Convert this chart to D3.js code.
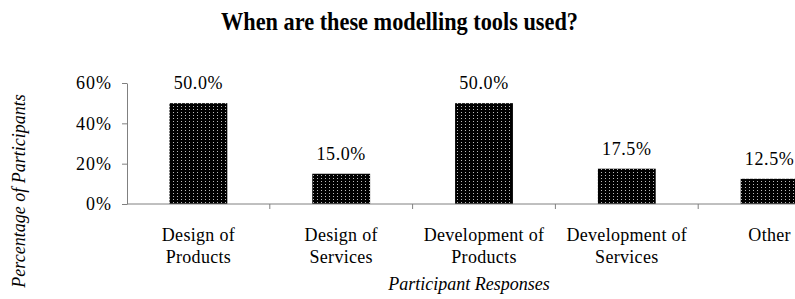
<!DOCTYPE html>
<html>
<head>
<meta charset="utf-8">
<script src="https://cdn.jsdelivr.net/npm/d3@7"></script>
<style>
  body { margin: 0; background: #fff; }
</style>
</head>
<body>
<svg id="chart" width="795" height="299"></svg>
<script>
// chart data
const categories = [
  ["Design of", "Products"],
  ["Design of", "Services"],
  ["Development of", "Products"],
  ["Development of", "Services"],
  ["Other"]
];
const values = [50.0, 15.0, 50.0, 17.5, 12.5];
const yTicks = [0, 20, 40, 60];

const serif = '"Liberation Serif", "Times New Roman", serif';
const svg = d3.select('#chart').attr('font-family', serif);

// dotted fill like the original
const defs = svg.append('defs');
const pat = defs.append('pattern')
  .attr('id', 'dots')
  .attr('patternUnits', 'userSpaceOnUse')
  .attr('width', 4)
  .attr('height', 3);
pat.append('rect').attr('width', 4).attr('height', 3).attr('fill', '#000');
pat.append('rect').attr('x', 1).attr('y', 1).attr('width', 1).attr('height', 1).attr('fill', '#bbb');

const left = 127, baseY = 204, step = 142.8;

const x = d3.scaleBand()
  .domain(d3.range(categories.length))
  .range([left, left + step * categories.length])
  .paddingInner(0.595)
  .paddingOuter(0.2975);

const y = d3.scaleLinear()
  .domain([0, 60])
  .range([baseY, 83]);

// title (squeezed a bit, like the original)
svg.append('text')
  .attr('x', 221)
  .attr('y', 30)
  .attr('font-weight', 'bold')
  .attr('font-size', 25)
  .attr('textLength', 357)
  .attr('lengthAdjust', 'spacingAndGlyphs')
  .text('When are these modelling tools used?');

// bars
svg.selectAll('rect.bar')
  .data(values)
  .join('rect')
  .attr('class', 'bar')
  .attr('x', (d, i) => x(i))
  .attr('width', x.bandwidth())
  .attr('y', d => y(d))
  .attr('height', d => baseY - y(d))
  .attr('fill', 'url(#dots)');

// value labels
svg.selectAll('text.val')
  .data(values)
  .join('text')
  .attr('class', 'val')
  .attr('x', (d, i) => x(i) + x.bandwidth() / 2)
  .attr('y', d => y(d) - 14)
  .attr('text-anchor', 'middle')
  .attr('font-size', 18)
  .attr('letter-spacing', 0.6)
  .text(d => d.toFixed(1) + '%');

// y axis
const yAxis = svg.append('g')
  .attr('transform', `translate(${left},0)`)
  .call(d3.axisLeft(y).tickValues(yTicks).tickFormat(d => d + '%').tickSize(5).tickSizeOuter(0));
yAxis.attr('font-family', serif);
yAxis.select('.domain').attr('stroke', '#808080');
yAxis.selectAll('.tick line').attr('stroke', '#808080');
yAxis.selectAll('.tick text')
  .attr('font-size', 18)
  .attr('letter-spacing', 1)
  .attr('fill', '#000')
  .attr('x', -15);

// x baseline and category ticks
const bounds = d3.range(categories.length + 1).map(i => left + step * i);
svg.append('line')
  .attr('x1', left).attr('x2', 795)
  .attr('y1', baseY).attr('y2', baseY)
  .attr('stroke', '#808080');
svg.selectAll('line.xt')
  .data(bounds.slice(1))
  .join('line')
  .attr('class', 'xt')
  .attr('x1', d => d).attr('x2', d => d)
  .attr('y1', baseY).attr('y2', baseY + 5)
  .attr('stroke', '#808080');

// category labels
const catLabels = svg.selectAll('text.cat')
  .data(categories)
  .join('text')
  .attr('class', 'cat')
  .attr('text-anchor', 'middle')
  .attr('font-size', 18)
  .attr('letter-spacing', 0.3);
catLabels.each(function(lines, i) {
  const cx = x(i) + x.bandwidth() / 2;
  d3.select(this).selectAll('tspan')
    .data(lines)
    .join('tspan')
    .attr('x', cx)
    .attr('y', (d, j) => 241 + j * 22)
    .text(d => d);
});

// axis titles
svg.append('text')
  .attr('x', 469)
  .attr('y', 290)
  .attr('text-anchor', 'middle')
  .attr('font-style', 'italic')
  .attr('font-size', 18)
  .text('Participant Responses');

svg.append('text')
  .attr('transform', 'translate(25,191) rotate(-90)')
  .attr('text-anchor', 'middle')
  .attr('font-style', 'italic')
  .attr('font-size', 18)
  .text('Percentage of Participants');
</script>
</body>
</html>
